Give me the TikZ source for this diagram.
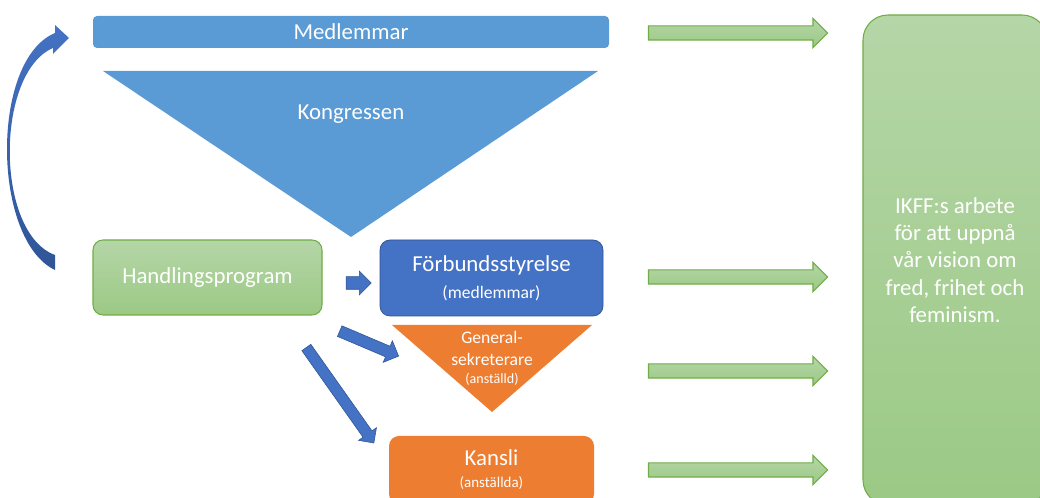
\documentclass[tikz,border=0pt]{standalone}
\usepackage{fontspec}
\setmainfont{Carlito}
\usetikzlibrary{shapes.arrows}
\definecolor{medlblue}{HTML}{5B9BD5}
\definecolor{styrblue}{HTML}{4472C4}
\definecolor{styrline}{HTML}{2F528F}
\definecolor{arcdark}{HTML}{2F5597}
\definecolor{kansliorange}{HTML}{ED7D31}
\definecolor{greentop}{HTML}{B5D6A7}
\definecolor{greenbot}{HTML}{9BC985}
\definecolor{greenline}{HTML}{70AD47}
\begin{document}
\begin{tikzpicture}[
	stor/.style={font=\fontsize{13}{15.5}\selectfont},
	mellan/.style={font=\fontsize{10}{12.5}\selectfont},
	greenbox/.style={draw=greenline,line width=.6pt,top color=greentop,bottom color=greenbot,text=white},
	greenpil/.style={single arrow,draw=greenline,line width=.6pt,top color=greentop,bottom color=greenbot,minimum height=3.58cm,inner xsep=0pt,inner ysep=.13cm,single arrow head extend=.15cm},
	bluepil/.style={single arrow,fill=styrblue,draw=styrline,line width=.3pt,inner xsep=0pt}
	]
							\useasboundingbox (0,0) rectangle (20.8,9.96);
							\clip (0,0) rectangle (20.8,9.96);
							\node at (7.02,9.32) [fill=medlblue,rounded corners=.08cm,minimum width=10.32cm,minimum height=.64cm,text=white,stor] (medlemmar) {Medlemmar};
							\fill[medlblue] (2.06,8.54) -- (11.96,8.54) -- (7.02,5.22) -- cycle;
							\node at (7.02,7.68) [text=white,stor] (kongressen) {Kongressen};
							\shade[top color=styrblue,bottom color=arcdark] (1.10,4.56) .. controls (-0.16,5.16) and (-0.20,8.76) .. (1.10,9.30) -- (1.10,9.46) -- (1.38,9.20) -- (1.06,8.88) -- (1.06,9.00) .. controls (-0.10,8.50) and (-0.10,5.30) .. (1.10,4.86) -- cycle;
							\node at (4.15,4.41) [greenbox,rounded corners=.2cm,minimum width=4.58cm,minimum height=1.5cm,stor] (handling) {Handlingsprogram};
							\node at (9.83,4.40) [fill=styrblue,draw=styrline,rounded corners=.2cm,minimum width=4.46cm,minimum height=1.52cm,text=white,align=center,stor] (styrelse) {Förbundsstyrelse\\[0pt]{\fontsize{10}{12}\selectfont(medlemmar)}};
							\fill[kansliorange] (7.84,3.46) -- (11.84,3.46) -- (9.84,1.72) -- cycle;
							\node at (9.84,2.79) [text=white,align=center,mellan] (gensek) {General-\\sekreterare\\[-2pt]{\fontsize{8}{10}\selectfont(anställd)}};
							\node at (9.83,0.56) [fill=kansliorange,rounded corners=.2cm,minimum width=4.10cm,minimum height=1.36cm,text=white,align=center,stor] (kansli) {Kansli\\[-3pt]{\fontsize{8.5}{10}\selectfont(anställda)}};
							\node at (19.10,4.76) [greenbox,rounded corners=.5cm,minimum width=3.68cm,minimum height=9.80cm,align=center,stor] (ikff) {IKFF:s arbete\\för att uppnå\\vår vision om\\fred, frihet och\\feminism.};
							\node at (14.69,9.30) [greenpil] (pilmedl) {};
							\node at (14.69,4.42) [greenpil] (pilstyr) {};
							\node at (14.69,2.54) [greenpil] (pilgen) {};
							\node at (14.69,0.56) [greenpil] (pilkansli) {};
							\node at (7.11,4.30) [bluepil,minimum height=.5cm,inner ysep=.12cm,single arrow head extend=.11cm] (tillstyr) {};
							\node at (7.33,3.11) [bluepil,rotate=-23,minimum height=1.28cm,inner ysep=.11cm,single arrow head extend=.12cm] (tillgen) {};
							\node at (6.77,2.10) [bluepil,rotate=-54.75,minimum height=2.34cm,inner ysep=.105cm,single arrow head extend=.11cm] (tillkansli) {};
						\end{tikzpicture}
\end{document}
